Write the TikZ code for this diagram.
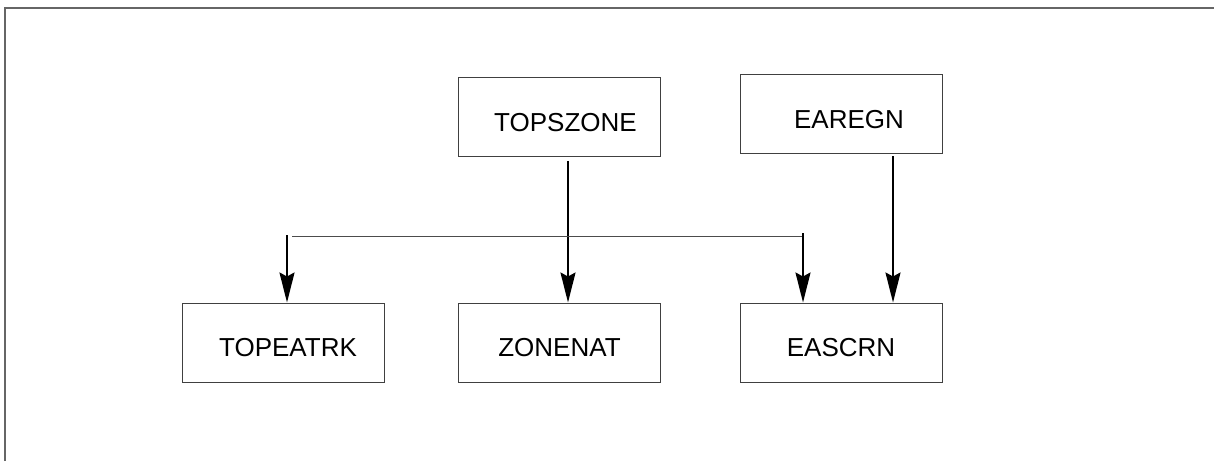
\documentclass[tikz,border=0pt]{standalone}
\usepackage{fontspec}
\setmainfont{Liberation Sans}
\usetikzlibrary{arrows.meta}

\tikzset{
	tbl/.style={draw=black!75, line width=1pt, minimum width=202pt, minimum height=79pt, inner sep=0pt, text height=28.6pt, text depth=0pt, font=\fontsize{26}{30}\selectfont},
	arr/.style={line width=2pt, -{Stealth[length=30pt,width=15pt,inset=4pt]}},
	bus/.style={line width=1pt, color=black!70},
}

\begin{document}
\begin{tikzpicture}[x=1pt,y=1pt]
	\useasboundingbox (0,0) rectangle (1214,461);
	% frame
	\draw[line width=2pt, color=black!60] (5,0) -- (5,453) -- (1214,453);
	% tables
	\node[tbl] (topszone) at (559.5,344) {\hspace{12pt}TOPSZONE};
	\node[tbl] (earegn) at (841,346.5) {\hspace{16pt}EAREGN};
	\node[tbl] (topeatrk) at (283,118.5) {\hspace{10pt}TOPEATRK};
	\node[tbl] (zonenat) at (559.5,118.5) {ZONENAT};
	\node[tbl] (eascrn) at (841,118.5) {EASCRN};
	% links
	\draw[arr] ([xshift=8.5pt,yshift=-4pt]topszone.south) -- ([xshift=8.5pt]zonenat.north);
	\draw[arr] ([xshift=52pt,yshift=-2pt]earegn.south) -- ([xshift=52pt]eascrn.north);
	\coordinate (busL) at (292,225);
	\coordinate (busR) at (802,225);
	\coordinate (dropL) at (287,226);
	\coordinate (dropR) at (803,228);
	\draw[bus] (busL) -- (busR);
	\draw[arr] (dropL) -- (dropL |- topeatrk.north);
	\draw[arr] (dropR) -- (dropR |- eascrn.north);
\end{tikzpicture}
\end{document}
